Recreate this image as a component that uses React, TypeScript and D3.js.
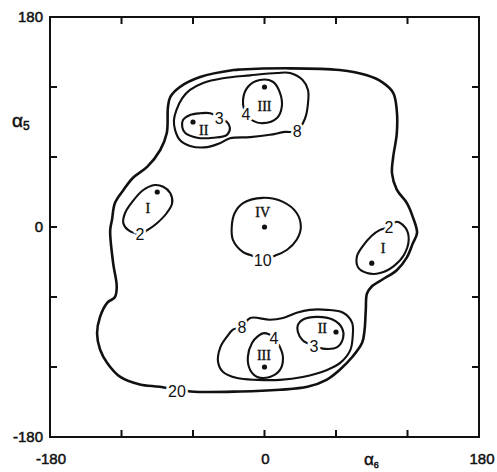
import React from "react";
import * as d3 from "d3";

const contour20 = [
  [-20, 135], [21, 136], [63, 134.5], [86, 130], [99, 124], [108, 115], [111, 100],
  [111, 80], [108, 60], [107, 46], [111, 32], [119.5, 20.5], [124.5, 8.5], [128, -5],
  [124.5, -14], [119.5, -26], [111, -37], [99, -45], [90, -51], [86, -57], [85, -71],
  [84, -88], [82, -99], [74, -111], [63, -122.5], [52, -131], [36, -137], [13, -139.5],
  [-20, -141], [-62, -141], [-88, -137], [-104.5, -135], [-121, -128.5], [-132, -116.5],
  [-138, -105], [-140.5, -91], [-138, -77], [-132, -65], [-125.5, -60], [-124, -51],
  [-127, -31], [-129.5, -3], [-128, 6], [-125.5, 20.5], [-118.5, 31.5], [-110.5, 42],
  [-98.5, 51.5], [-87.5, 66], [-82, 80.5], [-81, 103], [-79, 111.5], [-71, 120],
  [-54, 128.5], [-26, 134.5],
];
const contour8Upper = [
  [17, 81.5], [4.5, 79], [-12, 77], [-29, 76], [-37, 72], [-48, 68.5], [-62.5, 69.5],
  [-71, 74.5], [-75, 83], [-76, 91.5], [-74, 100], [-69, 110.5], [-62.5, 117.5],
  [-51.5, 123.5], [-35, 127.5], [-12, 130], [10.5, 132], [21.5, 132], [32, 126],
  [36.5, 117.5], [36.5, 106], [34, 93], [27, 82],
];
const contour8Lower = [
  [-12, -78], [4.5, -79.5], [15.5, -78], [27, -73.5], [38, -71], [52.5, -71], [66, -73.5],
  [73.5, -82], [74, -94], [72, -105.5], [63.5, -116.5], [52.5, -122.5], [32, -128.5],
  [13, -131], [-6, -131], [-23, -129.5], [-35, -124], [-39, -115.5], [-37, -103],
  [-31.5, -94], [-26.5, -88], [-19, -85.5],
];
const contour3Upper = [
  [-54, 97.5], [-62.5, 96], [-68.5, 91.5], [-69, 85.5], [-66.5, 80.5], [-56.5, 76.5],
  [-43, 76.5], [-31.5, 79], [-29, 85], [-31.5, 90], [-38, 93.5], [-45.5, 97.5],
];
const contour3Lower = [
  [32, -79.5], [44, -77], [57.5, -79.5], [65, -86.5], [66, -95], [61, -103], [51, -104.5],
  [41.5, -102], [32, -97], [28, -90], [28, -84],
];
const contour4Upper = [
  [-4, 126], [7, 124.5], [13, 115], [14.5, 103], [10.5, 93.5], [-1.5, 89], [-9.5, 91],
  [-15.5, 97], [-18, 109], [-14, 120],
];
const contour4Lower = [
  [-5.5, -93.5], [-0.5, -91], [8, -95], [13, -103], [15.5, -112], [13, -122.5],
  [4.5, -128.5], [-6, -128.5], [-12, -122.5], [-14, -111.5], [-10.5, -99.5],
];
const contour2Left = [
  [-92, 36], [-85, 34.5], [-79, 29], [-77.5, 20.5], [-82, 12], [-90, 3.5], [-98, -2.5],
  [-104.5, -6], [-114.5, -2.5], [-118.5, 3.5], [-117, 12], [-111, 21.5], [-102, 31.5],
];
const contour2Right = [
  [111, 4.5], [118.5, -1], [121, -11], [117, -24], [108.5, -33.5], [97, -39.5], [86, -39.5],
  [78.5, -34.5], [77.5, -25.5], [82, -17], [90, -7.5], [97, -2.5], [104.5, 0],
];
const contour10 = [
  [-1.5, 25], [15.5, 21.5], [27, 12], [30.5, 0], [27, -11], [19, -19.5], [9, -24.5],
  [-1.5, -27], [-12, -24], [-18, -21.5], [-26.5, -11], [-27.5, 0], [-25, 12], [-18, 20.5],
];

const contours = [
  { level: 20, pts: contour20 },
  { level: 8, pts: contour8Upper },
  { level: 8, pts: contour8Lower },
  { level: 3, pts: contour3Upper },
  { level: 3, pts: contour3Lower },
  { level: 4, pts: contour4Upper },
  { level: 4, pts: contour4Lower },
  { level: 2, pts: contour2Left },
  { level: 2, pts: contour2Right },
  { level: 10, pts: contour10 },
];

// level labels sitting in gaps of the lines
const levelLabels = [
  { text: "20", x: -73.5, y: -141 },
  { text: "8", x: 27.5, y: 82 },
  { text: "8", x: -19, y: -85.5 },
  { text: "3", x: -38, y: 93.5 },
  { text: "3", x: 41.5, y: -102 },
  { text: "4", x: -15.5, y: 96.5 },
  { text: "4", x: 8, y: -95 },
  { text: "2", x: -104.5, y: -6 },
  { text: "2", x: 104.5, y: 0 },
  { text: "10", x: -1.5, y: -28.5 },
];

// minima: dot position and numeral position
const minima = [
  { name: "I", x: -90, y: 30, lx: -98, ly: 16 },
  { name: "II", x: -60, y: 90, lx: -51, ly: 83 },
  { name: "III", x: 0, y: 120, lx: 0, ly: 104 },
  { name: "IV", x: 0, y: 0, lx: -1.5, ly: 12.5 },
  { name: "I", x: 90, y: -31, lx: 99.5, ly: -18 },
  { name: "II", x: 60, y: -90, lx: 48.5, ly: -86.5 },
  { name: "III", x: 0, y: -120, lx: -0.5, ly: -110 },
];

const innerTicks = [-120, -60, 0, 60, 120];
const endLabels = [-180, 0, 180];

export default function App() {
  const W = 497;
  const H = 472;
  const x = d3.scaleLinear().domain([-180, 180]).range([50, 479]);
  const y = d3.scaleLinear().domain([-180, 180]).range([437, 17]);

  const line = d3
    .line<number[]>()
    .x((d) => x(d[0]))
    .y((d) => y(d[1]))
    .curve(d3.curveCatmullRomClosed.alpha(0.5));

  const font = "'Liberation Sans', Arial, sans-serif";
  const tl = 7;

  return (
    <svg
      width={W}
      height={H}
      style={{ position: "absolute", left: 0, top: 0, background: "#fff" }}
    >
      {/* frame */}
      <rect
        x={x(-180)}
        y={y(180)}
        width={x(180) - x(-180)}
        height={y(-180) - y(180)}
        fill="none"
        stroke="#111"
        strokeWidth={2}
      />
      {innerTicks.map((t) => (
        <g key={"t" + t} stroke="#111" strokeWidth={2}>
          <line x1={x(t)} x2={x(t)} y1={y(-180)} y2={y(-180) - tl} />
          <line x1={x(t)} x2={x(t)} y1={y(180)} y2={y(180) + tl} />
          <line x1={x(-180)} x2={x(-180) + tl} y1={y(t)} y2={y(t)} />
          <line x1={x(180)} x2={x(180) - tl} y1={y(t)} y2={y(t)} />
        </g>
      ))}

      {/* tick labels */}
      <g fontFamily={font} fontSize={15} fill="#111" stroke="#111" strokeWidth={0.5}>
        {endLabels.map((t) => (
          <text key={"yl" + t} x={x(-180) - 7} y={y(t)} dy="0.35em" textAnchor="end">
            {t}
          </text>
        ))}
        {endLabels.map((t) => (
          <text key={"xl" + t} x={x(t) + (t === 180 ? 3 : 1)} y={y(-180) + 27} textAnchor="middle">
            {t}
          </text>
        ))}
      </g>

      {/* axis titles */}
      <text x={12} y={127} fontFamily={font} fontSize={19} fill="#111" stroke="#111" strokeWidth={0.5}>
        α<tspan fontSize={12} dy={3}>5</tspan>
      </text>
      <text x={364} y={465} fontFamily={font} fontSize={17} fill="#111" stroke="#111" strokeWidth={0.5}>
        α<tspan fontSize={9} dy={3}>6</tspan>
      </text>

      {/* contour lines */}
      {contours.map((c, i) => (
        <path
          key={"c" + i}
          d={line(c.pts) || ""}
          fill="none"
          stroke="#111"
          strokeWidth={c.level === 20 ? 2.6 : 2.1}
        />
      ))}

      {/* level labels */}
      {levelLabels.map((l, i) => (
        <text
          key={"l" + i}
          x={x(l.x)}
          y={y(l.y)}
          dy="0.36em"
          textAnchor="middle"
          fontFamily={font}
          fontSize={16}
          fill="#111"
          stroke="#fff"
          strokeWidth={5}
          style={{ paintOrder: "stroke" }}
        >
          {l.text}
        </text>
      ))}

      {/* minima */}
      {minima.map((m, i) => (
        <g key={"m" + i}>
          <circle cx={x(m.x)} cy={y(m.y)} r={2.6} fill="#111" />
          <text
            x={x(m.lx)}
            y={y(m.ly)}
            dy="0.36em"
            textAnchor="middle"
            fontFamily="'Liberation Serif', serif"
            fontSize={14}
            fill="#111"
            stroke="#111"
            strokeWidth={0.4}
          >
            {m.name}
          </text>
        </g>
      ))}
    </svg>
  );
}
